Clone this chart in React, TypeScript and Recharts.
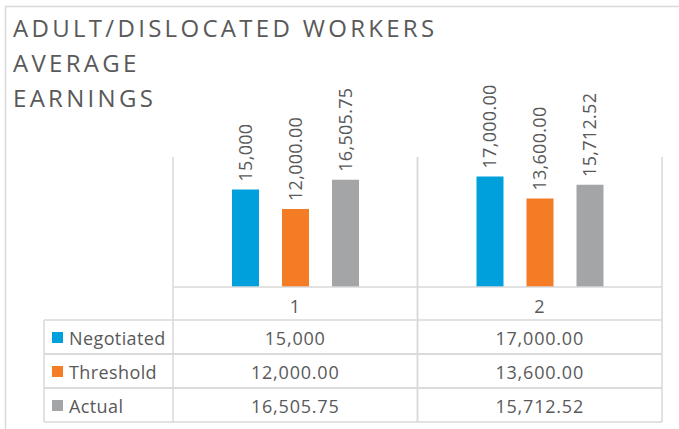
import React from 'react';
import { BarChart, Bar, XAxis, YAxis, LabelList } from 'recharts';

const categories = ['1', '2'];
const seriesNames = ['Negotiated', 'Threshold', 'Actual'];
const negotiated = [15000, 17000];
const threshold = [12000, 13600];
const actual = [16505.75, 15712.52];
const negotiatedLabels = ['15,000', '17,000.00'];
const thresholdLabels = ['12,000.00', '13,600.00'];
const actualLabels = ['16,505.75', '15,712.52'];
const titleLines = ['ADULT/DISLOCATED WORKERS', 'AVERAGE', 'EARNINGS'];

const COLORS = ['#00a0dc', '#f47c24', '#a3a5a6'];
const TEXT = '#595959';
const GRID = '#d9d9d9';
const FONT = '"Open Sans", sans-serif';

const W = 679;
const H = 429;
const PLOT_LEFT = 173;
const PLOT_RIGHT = 662;
const PLOT_TOP = 157;
const PLOT_BOTTOM = 287;
const TABLE_LEFT = 44;
const HEADER_BOTTOM = 320;
const ROW_H = 34;
const AXIS_H = 30;

const data = categories.map((c, i) => ({
  name: c,
  negotiated: negotiated[i],
  threshold: threshold[i],
  actual: actual[i],
}));

const rowLabels = [negotiatedLabels, thresholdLabels, actualLabels];

const rotatedLabel = (labels: string[]) => (props: any) => {
  const { x, y, width, index } = props;
  const cx = Number(x) + Number(width) / 2 + 6.4;
  const top = Number(y) - 8;
  return (
    <text
      x={cx}
      y={top}
      transform={`rotate(-90 ${cx} ${top})`}
      textAnchor="start"
      fill={TEXT}
      fontSize={18}
      fontFamily={FONT}
      style={{ letterSpacing: '0.3px' }}
    >
      {labels[index]}
    </text>
  );
};

const cellText = { fill: TEXT, fontSize: 18, fontFamily: FONT, style: { letterSpacing: '0.8px' } };

const TableTick = (props: any) => {
  const { x, payload, index } = props;
  const band = (PLOT_RIGHT - PLOT_LEFT) / categories.length;
  const left = x - band / 2;
  const right = x + band / 2;
  const tableBottom = HEADER_BOTTOM + ROW_H * seriesNames.length;
  return (
    <g>
      <line x1={left} y1={PLOT_TOP} x2={left} y2={tableBottom} stroke={GRID} strokeWidth={1.5} />
      <line x1={right} y1={PLOT_TOP} x2={right} y2={tableBottom} stroke={GRID} strokeWidth={1.5} />
      <line x1={left} y1={PLOT_BOTTOM} x2={right} y2={PLOT_BOTTOM} stroke={GRID} strokeWidth={1.5} />
      <text x={x} y={313} textAnchor="middle" {...cellText}>
        {payload.value}
      </text>
      {seriesNames.map((s, si) => {
        const rowTop = HEADER_BOTTOM + ROW_H * si;
        return (
          <g key={s}>
            <line x1={left} y1={rowTop} x2={right} y2={rowTop} stroke={GRID} strokeWidth={1.5} />
            <line x1={left} y1={rowTop + ROW_H} x2={right} y2={rowTop + ROW_H} stroke={GRID} strokeWidth={1.5} />
            <text x={x} y={rowTop + 25} textAnchor="middle" {...cellText}>
              {rowLabels[si][index]}
            </text>
          </g>
        );
      })}
      {index === 0 && (
        <g>
          <line x1={TABLE_LEFT} y1={HEADER_BOTTOM} x2={TABLE_LEFT} y2={tableBottom} stroke={GRID} strokeWidth={1.5} />
          {seriesNames.map((s, si) => {
            const rowTop = HEADER_BOTTOM + ROW_H * si;
            return (
              <g key={s}>
                <line x1={TABLE_LEFT} y1={rowTop} x2={left} y2={rowTop} stroke={GRID} strokeWidth={1.5} />
                <line x1={TABLE_LEFT} y1={rowTop + ROW_H} x2={left} y2={rowTop + ROW_H} stroke={GRID} strokeWidth={1.5} />
                <rect x={52} y={rowTop + 12} width={11} height={11} fill={COLORS[si]} />
                <text x={69} y={rowTop + 25} fill={TEXT} fontSize={18} fontFamily={FONT} style={{ letterSpacing: '0.4px' }}>
                  {s}
                </text>
              </g>
            );
          })}
        </g>
      )}
    </g>
  );
};

export default function App() {
  return (
    <div style={{ position: 'absolute', left: 0, top: 0, width: W, height: H, background: '#fff' }}>
      <svg width={W} height={H} style={{ position: 'absolute', left: 0, top: 0 }}>
        <line x1={5} y1={6.5} x2={W} y2={6.5} stroke={GRID} strokeWidth={1.5} />
        <line x1={5.5} y1={6} x2={5.5} y2={H} stroke={GRID} strokeWidth={1.5} />
        {titleLines.map((t, i) => (
          <text
            key={t}
            x={13}
            y={37 + i * 35}
            fill={TEXT}
            fontSize={24}
            fontFamily={FONT}
            style={{ letterSpacing: '3.3px' }}
          >
            {t}
          </text>
        ))}
      </svg>
      <div style={{ position: 'absolute', left: 0, top: 0 }}>
        <BarChart
          width={W}
          height={H}
          data={data}
          margin={{ top: PLOT_TOP, right: W - PLOT_RIGHT, left: PLOT_LEFT, bottom: H - PLOT_BOTTOM - AXIS_H }}
          barSize={27}
          barGap={23}
        >
          <XAxis
            dataKey="name"
            height={AXIS_H}
            axisLine={false}
            tickLine={false}
            interval={0}
            tick={(p: any) => <TableTick {...p} />}
          />
          <YAxis hide domain={[0, 20000]} />
          <Bar dataKey="negotiated" fill={COLORS[0]} isAnimationActive={false}>
            <LabelList dataKey="negotiated" content={rotatedLabel(negotiatedLabels)} />
          </Bar>
          <Bar dataKey="threshold" fill={COLORS[1]} isAnimationActive={false}>
            <LabelList dataKey="threshold" content={rotatedLabel(thresholdLabels)} />
          </Bar>
          <Bar dataKey="actual" fill={COLORS[2]} isAnimationActive={false}>
            <LabelList dataKey="actual" content={rotatedLabel(actualLabels)} />
          </Bar>
        </BarChart>
      </div>
    </div>
  );
}
